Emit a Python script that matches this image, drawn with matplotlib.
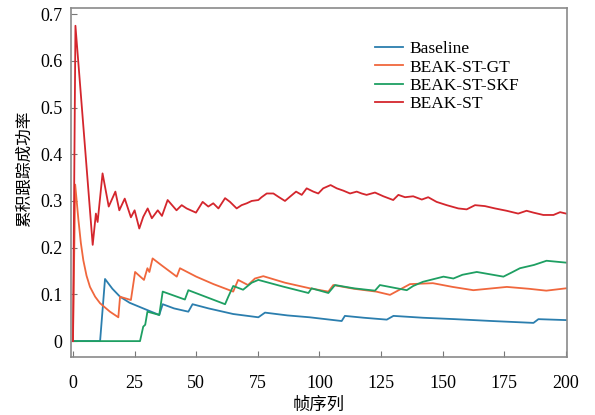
import matplotlib
matplotlib.use("Agg")
import matplotlib.pyplot as plt

# ---- data ----
st_x = [0, 1, 8, 9.3, 10, 12, 14.5, 17.2, 18.8, 21, 23.5, 25, 26.9, 28.5, 30.3, 32, 34.4, 36.1,
        38.4, 42, 44.1, 46.1, 49.9, 52.6, 54.9, 56.9, 59, 61.7, 63.7, 66.4, 68.4, 70.5, 72.5, 75.2,
        76.5, 78.6, 81.3, 83.3, 86, 88, 90.5, 92.8, 94.8, 97.5, 99.5, 101.5, 104.5, 107, 109.7,
        112.4, 115.1, 117.1, 119.1, 122.5, 125.9, 129.9, 132, 134.7, 138, 141.5, 144.1, 147.5,
        151.6, 156.3, 159.7, 163.1, 167.1, 171.2, 175.9, 180.6, 184, 186.8, 190.8, 194.9, 197.6, 200]
st_y = [0, 0.675, 0.206, 0.273, 0.255, 0.359, 0.288, 0.32, 0.28, 0.305, 0.265, 0.28, 0.241, 0.266,
        0.284, 0.263, 0.28, 0.268, 0.302, 0.28, 0.291, 0.284, 0.275, 0.298, 0.288, 0.295, 0.284,
        0.306, 0.298, 0.284, 0.291, 0.295, 0.30, 0.302, 0.308, 0.316, 0.316, 0.309, 0.30, 0.309,
        0.32, 0.313, 0.327, 0.32, 0.316, 0.327, 0.334, 0.327, 0.322, 0.316, 0.32, 0.316, 0.313,
        0.318, 0.31, 0.302, 0.313, 0.308, 0.31, 0.303, 0.308, 0.298, 0.291, 0.284, 0.282, 0.291,
        0.289, 0.284, 0.279, 0.273, 0.279, 0.275, 0.27, 0.27, 0.276, 0.273]

gt_x = [0, 0.9, 2.2, 3.2, 4.2, 5.5, 6.9, 9, 11, 15, 18.4, 19.1, 23.5, 25.2, 28.8, 30.2, 31, 32.3, 36,
        42.1, 43.4, 50, 57, 65, 67, 71, 73.8, 77.2, 86, 96.1, 103.6, 105.6, 114, 123, 128.6, 136.7,
        146, 154, 162.4, 176, 185, 192, 200]
gt_y = [0, 0.335, 0.26, 0.21, 0.173, 0.14, 0.116, 0.095, 0.081, 0.063, 0.051, 0.095, 0.088, 0.148,
        0.131, 0.156, 0.148, 0.177, 0.162, 0.138, 0.156, 0.138, 0.122, 0.106, 0.131, 0.12, 0.134,
        0.139, 0.125, 0.113, 0.106, 0.12, 0.112, 0.106, 0.099, 0.122, 0.124, 0.116, 0.109, 0.116,
        0.112, 0.108, 0.113]

skf_x = [0, 27.2, 28.5, 29.3, 30.2, 35, 36.4, 45.4, 46.8, 61.7, 63, 65, 69, 72.5, 75.2, 85, 95.5,
         96.8, 103.6, 106.3, 114, 122.5, 124.5, 135.4, 138, 142, 150.3, 154.3, 158, 163.8, 174.6,
         178, 181.3, 187, 192.1, 200]
skf_y = [0, 0, 0.031, 0.035, 0.063, 0.056, 0.106, 0.089, 0.109, 0.079, 0.095, 0.118, 0.11, 0.125,
         0.131, 0.117, 0.103, 0.113, 0.103, 0.12, 0.113, 0.108, 0.12, 0.109, 0.118, 0.127, 0.138,
         0.134, 0.142, 0.148, 0.138, 0.147, 0.156, 0.163, 0.172, 0.168]

base_x = [0, 11, 13, 16, 19.1, 23, 28.5, 35, 36.4, 41, 46.8, 48.5, 55, 65, 75.2, 77.9, 87, 96, 109,
          110.3, 118, 127.3, 130, 142, 155, 170, 186.8, 188.8, 200]
base_y = [0, 0, 0.133, 0.112, 0.095, 0.082, 0.07, 0.056, 0.079, 0.07, 0.063, 0.079, 0.07, 0.058,
          0.051, 0.061, 0.055, 0.051, 0.043, 0.054, 0.05, 0.046, 0.054, 0.05, 0.047, 0.043, 0.039,
          0.047, 0.045]

labels = ["Baseline", "BEAK-ST-GT", "BEAK-ST-SKF", "BEAK-ST"]
x_ticks = [0, 25, 50, 75, 100, 125, 150, 175, 200]
y_ticks = [0, 0.1, 0.2, 0.3, 0.4, 0.5, 0.6, 0.7]
y_tick_labels = ["0", "0.1", "0.2", "0.3", "0.4", "0.5", "0.6", "0.7"]

serif = ["Liberation Serif", "DejaVu Serif"]
cjk = ["Noto Sans CJK SC", "DejaVu Sans"]

fig = plt.figure(figsize=(5.95, 4.15), dpi=100)
ax = fig.add_axes([71 / 595, 1 - 357 / 415, (567 - 71) / 595, (357 - 8) / 415])

lw = 1.3
ax.plot(base_x, base_y, color="#2b7eae", lw=lw, label=labels[0])
ax.plot(gt_x, gt_y, color="#f0673d", lw=lw, label=labels[1])
ax.plot(skf_x, skf_y, color="#1e9f62", lw=lw, label=labels[2])
ax.plot(st_x, st_y, color="#d4262d", lw=lw, label=labels[3])

ax.set_xlim(-0.8, 200.4)
ax.set_ylim(-0.034, 0.713)
ax.set_xticks(x_ticks)
ax.set_yticks(y_ticks)
ax.set_yticklabels(y_tick_labels)
for t in ax.get_xticklabels() + ax.get_yticklabels():
    t.set_fontfamily(serif)
    t.set_fontsize(13)
ax.tick_params(direction="in", length=4, width=0.8, color="#777777")
ax.tick_params(axis="x", pad=13)
ax.tick_params(axis="y", pad=6)

for s in ax.spines.values():
    s.set_color("#8a8a8a")
    s.set_linewidth(1.2)

ax.set_xlabel("帧序列", fontfamily=cjk, fontsize=12.5, labelpad=3)
ax.set_ylabel("累积跟踪成功率", fontfamily=cjk, fontsize=12)
ax.yaxis.set_label_coords(-0.077, 0.54)

leg = ax.legend(loc="upper left", bbox_to_anchor=(0.613, 0.905), frameon=False,
                borderaxespad=0, borderpad=0, handlelength=1.6, handletextpad=0.4,
                labelspacing=0.12, prop={"family": serif, "size": 12.5})

fig.savefig("out.png", dpi=100)
